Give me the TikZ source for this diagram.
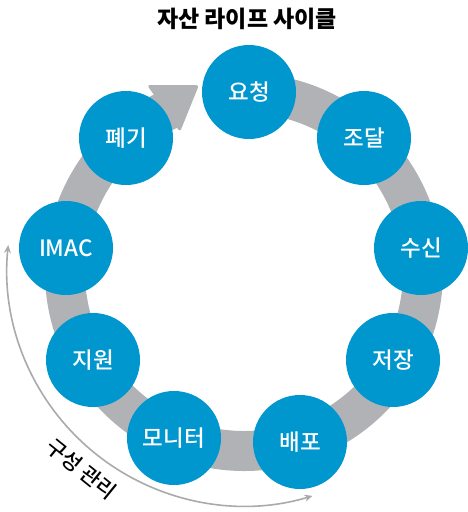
\documentclass[tikz,border=0pt]{standalone}
\usepackage{fontspec}
\newfontfamily\kr{Noto Sans CJK KR}
\newfontfamily\krm{Noto Sans CJK KR Medium}
\usetikzlibrary{arrows.meta}
\definecolor{ringgray}{RGB}{176,178,182}
\definecolor{hpblue}{RGB}{0,150,206}
\definecolor{linegray}{RGB}{168,170,174}
\begin{document}
\begin{tikzpicture}[x=1pt,y=1pt,
  stage/.style={circle, fill=hpblue, minimum size=94pt, inner sep=0pt, text=white,
    font=\krm\fontsize{22.5}{22.5}\selectfont},
  ring/.style={ringgray, line width=40pt},
  cmarrow/.style={linegray, line width=1.6pt,
    {Stealth[length=8pt,width=7pt]}-{Stealth[length=8pt,width=7pt]}},
]
\useasboundingbox (0,0) rectangle (468,-512);
\coordinate (ctr) at (244,-272);
\coordinate (cmctr) at (244,-269);
% ring with arrowhead
\draw[ring] (ctr) ++(85:179) arc[start angle=85, end angle=-245.5, radius=179];
\fill[ringgray, rounded corners=3pt] (147,-85) -- (199,-85) -- (180,-132) -- cycle;
% stages
\node[stage] (req) at (249,-92) {요청};
\node[stage] (proc) at (364,-138) {조달};
\node[stage] (recv) at (421,-248) {수신};
\node[stage] (store) at (393,-360) {저장};
\node[stage] (deploy) at (300,-442) {배포};
\node[stage] (mon) at (174,-438) {모니터};
\node[stage] (supp) at (93,-360) {지원};
\node[stage] (imac) at (66,-248) {IMAC};
\node[stage] (disp) at (126,-138) {폐기};
% title
\node[font=\kr\bfseries\fontsize{23}{23}\selectfont] (title) at (247,-19) {자산 라이프 사이클};
% configuration management arrow
\draw[cmarrow] (cmctr) ++(174.2:237) coordinate (cmtop)
  arc[start angle=174.2, end angle=286.8, radius=237] coordinate (cmend);
\node[rotate=-39, font=\krm\fontsize{21}{21}\selectfont] (cm) at (81.5,-469) {구성 관리};
\end{tikzpicture}
\end{document}
